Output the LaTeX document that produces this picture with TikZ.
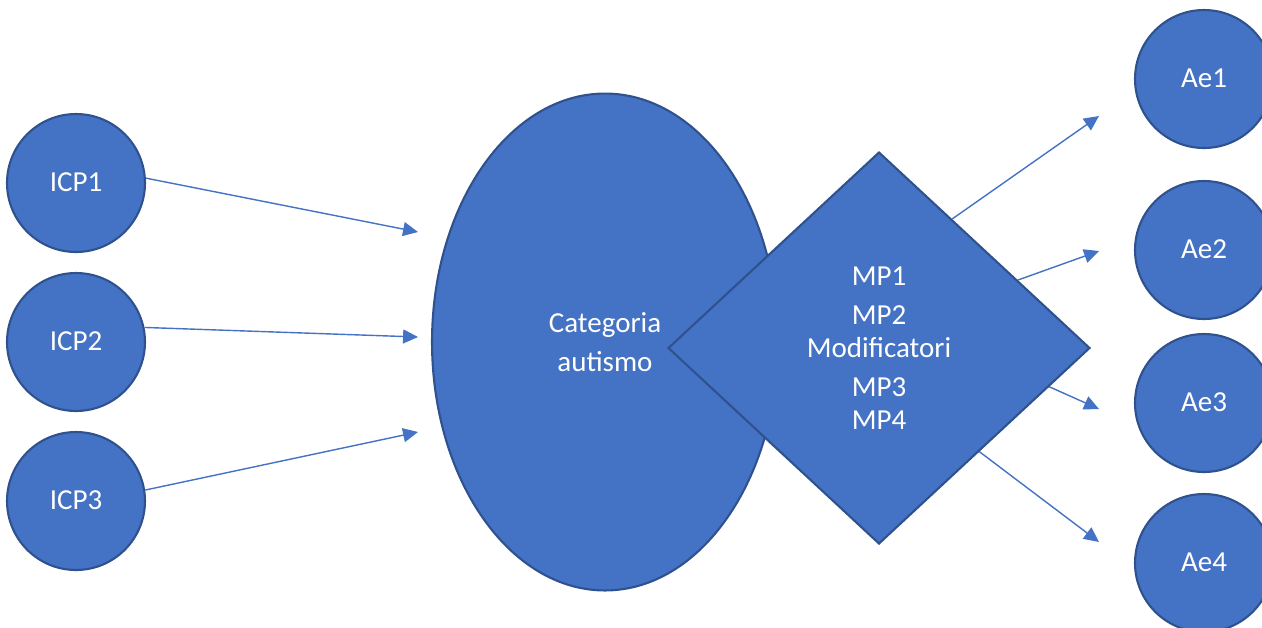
\documentclass[tikz,border=0pt]{standalone}
\usepackage{fontspec}
\setmainfont{Carlito}
\usetikzlibrary{shapes.geometric,arrows.meta,calc}
\definecolor{bfill}{HTML}{4472C4}
\definecolor{bline}{HTML}{2F528F}
\tikzset{
  shapebase/.style={fill=bfill, draw=bline, line width=1.2pt, text=white, inner sep=0pt,
    font=\fontsize{16.5}{20}\selectfont, align=center},
  smallcircle/.style={shapebase, circle, minimum size=2.76cm, text depth=0.5pt},
  conn/.style={draw=bfill, line width=0.8pt, -{Triangle[length=8.5pt,width=8pt]}}
}
\begin{document}
\begin{tikzpicture}[x=0.02cm,y=-0.02cm]
\useasboundingbox (0,0) rectangle (1262,627);
% left circles
\node[smallcircle] (icp1) at (76,183) {ICP1};
\node[smallcircle] (icp2) at (76,342) {ICP2};
\node[smallcircle] (icp3) at (76,501) {ICP3};
% arrow tips
\coordinate (t1) at (418,232);
\coordinate (t2) at (418,337);
\coordinate (t3) at (418,432);
\coordinate (t4) at (1099,116);
\coordinate (t5) at (1099,251);
\coordinate (t6) at (1099,409);
\coordinate (t7) at (1099,542);
% right circles
\node[smallcircle] (ae1) at (1204,79) {Ae1};
\node[smallcircle] (ae2) at (1204,250) {Ae2};
\node[smallcircle] (ae3) at (1204,403) {Ae3};
\node[smallcircle] (ae4) at (1204,563) {Ae4};
% center ellipse
\node[shapebase, ellipse, minimum width=6.92cm, minimum height=9.94cm,
  font=\fontsize{16.5}{22.2}\selectfont] (cat) at (605,342) {Categoria\\autismo};
% right arrows (behind diamond)
\coordinate (dN) at (878,150);
\coordinate (dE) at (1090,347);
\coordinate (dS) at (878,542);
\draw[conn] ($(dN)!0.35!(dE)$) -- (t4);
\draw[conn] ($(dN)!0.66!(dE)$) -- (t5);
\draw[conn] ($(dE)!0.2!(dS)$) -- (t6);
\draw[conn] ($(dE)!0.53!(dS)$) -- (t7);
% diamond
\node[shapebase, diamond, minimum width=8.44cm, minimum height=7.84cm,
  font=\fontsize{16.5}{18.8}\selectfont] (mp) at (879,348)
  {MP1\\[3.4pt]MP2\\Modificatori\\[3.4pt]MP3\\MP4};
% left arrows
\draw[conn] (icp1.4) -- (t1);
\draw[conn] (icp2.12) -- (t2);
\draw[conn] (icp3.9) -- (t3);
\end{tikzpicture}
\end{document}
